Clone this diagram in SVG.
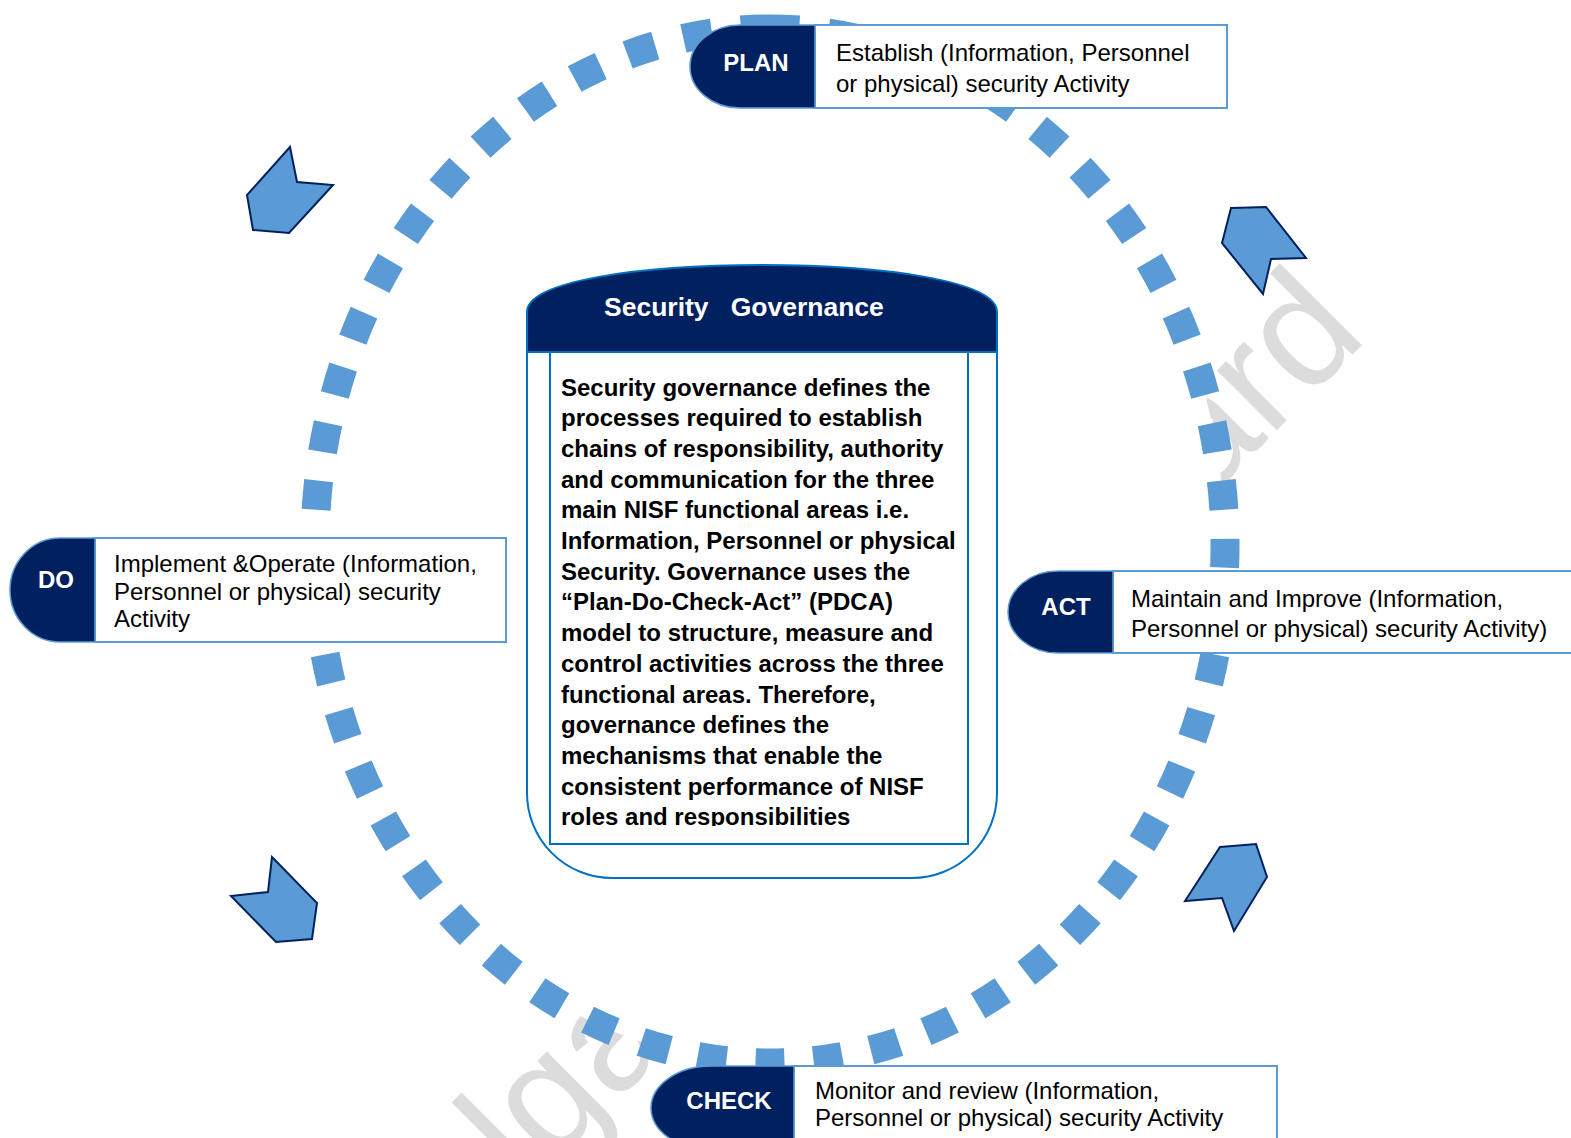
<svg xmlns="http://www.w3.org/2000/svg" width="1571" height="1138" viewBox="0 0 1571 1138">
  <style>
    .wm { font-family: "Liberation Sans", Arial, sans-serif; font-size: 160px; fill: #DCDCDC; }
    .head { fill: #002060; stroke: #5B9BD5; stroke-width: 1.5; }
    .lbox { fill: #FFFFFF; stroke: #5B9BD5; stroke-width: 2; }
    .hlabel { font-family: "Liberation Sans", Arial, sans-serif; font-size: 24px; font-weight: bold; fill: #FFFFFF; text-anchor: middle; }
    .desc { font-family: "Liberation Sans", Arial, sans-serif; font-size: 24px; fill: #000000; }
    .body { font-family: "Liberation Sans", Arial, sans-serif; font-size: 24px; font-weight: bold; fill: #000000; }
    .title { font-family: "Liberation Sans", Arial, sans-serif; font-size: 26.5px; font-weight: bold; fill: #FFFFFF; }
    .arrow { fill: #5B9BD5; stroke: #002060; stroke-width: 2; stroke-linejoin: miter; }
    .ring { fill: none; stroke: #5B9BD5; stroke-width: 29; stroke-dasharray: 29 29; }
  </style>
  <defs>
    <clipPath id="bodyclip">
      <rect x="550" y="352" width="418" height="474"/>
    </clipPath>
  </defs>

  <!-- watermark fragments -->
  <g id="watermark">
    <text class="wm" transform="translate(526,1192) rotate(-45)">lga</text>
    <text class="wm" transform="translate(1206,501) rotate(-45)">ard</text>
  </g>

  <!-- white disc inside the cycle -->
  <ellipse cx="770" cy="546" rx="455" ry="517" fill="#FFFFFF"/>

  <g id="connectors">
    <path class="ring" pathLength="3045" d="M770,29 A455,517 0 0 1 770,1063 A455,517 0 0 1 770,29"/>
    <polygon class="arrow" points="290,147 297,182 333,185 289,233 253,230 247,195"/>
    <polygon class="arrow" points="1231,208 1266,207 1306,258 1271,259 1263,294 1222,243"/>
    <polygon class="arrow" points="1220,847 1256,844 1267,877 1234,931 1222,898 1185,901"/>
    <polygon class="arrow" points="272,857 317,903 312,939 276,942 231,896 268,892"/>
  </g>

  <g id="security-governance">
    <path d="M527,352 L527,793 A85,85 0 0 0 612,878 L912,878 A85,85 0 0 0 997,793 L997,352" fill="#FFFFFF" stroke="#0070C0" stroke-width="2"/>
    <path d="M527,352 L527,312 C527,281 640,265 762,265 C884,265 997,281 997,312 L997,352 Z" fill="#002060" stroke="#0070C0" stroke-width="2"/>
    <text class="title" x="604" y="316" xml:space="preserve">Security   Governance</text>
    <rect x="550" y="352" width="418" height="492" fill="#FFFFFF" stroke="#0070C0" stroke-width="2"/>
    <g clip-path="url(#bodyclip)">
      <text class="body" x="561" y="395.5">Security governance defines the</text>
      <text class="body" x="561" y="426.2">processes required to establish</text>
      <text class="body" x="561" y="456.9">chains of responsibility, authority</text>
      <text class="body" x="561" y="487.6">and communication for the three</text>
      <text class="body" x="561" y="518.3">main NISF functional areas i.e.</text>
      <text class="body" x="561" y="549">Information, Personnel or physical</text>
      <text class="body" x="561" y="579.7">Security. Governance uses the</text>
      <text class="body" x="561" y="610.4">“Plan-Do-Check-Act” (PDCA)</text>
      <text class="body" x="561" y="641.1">model to structure, measure and</text>
      <text class="body" x="561" y="671.8">control activities across the three</text>
      <text class="body" x="561" y="702.5">functional areas. Therefore,</text>
      <text class="body" x="561" y="733.2">governance defines the</text>
      <text class="body" x="561" y="763.9">mechanisms that enable the</text>
      <text class="body" x="561" y="794.6">consistent performance of NISF</text>
      <text class="body" x="561" y="825.3">roles and responsibilities</text>
    </g>
  </g>

  <g id="plan">
    <rect class="lbox" x="815" y="25" width="412" height="83"/>
    <path class="head" d="M815,25 L740,25 A50,41.5 0 0 0 740,108 L815,108 Z"/>
    <text class="hlabel" x="756" y="70.5">PLAN</text>
    <text class="desc" x="836" y="61">Establish (Information, Personnel</text>
    <text class="desc" x="836" y="92">or physical) security Activity</text>
  </g>

  <g id="do">
    <rect class="lbox" x="95" y="538" width="411" height="104"/>
    <path class="head" d="M95,538 L60,538 A50,52 0 0 0 60,642 L95,642 Z"/>
    <text class="hlabel" x="56" y="587.5">DO</text>
    <text class="desc" x="114" y="572">Implement &amp;Operate (Information,</text>
    <text class="desc" x="114" y="600">Personnel or physical) security</text>
    <text class="desc" x="114" y="627">Activity</text>
  </g>

  <g id="act">
    <rect class="lbox" x="1113" y="571" width="470" height="82"/>
    <path class="head" d="M1113,571 L1058,571 A50,41 0 0 0 1058,653 L1113,653 Z"/>
    <text class="hlabel" x="1066" y="614.5">ACT</text>
    <text class="desc" x="1131" y="607">Maintain and Improve (Information,</text>
    <text class="desc" x="1131" y="637">Personnel or physical) security Activity)</text>
  </g>

  <g id="check">
    <rect class="lbox" x="794" y="1066" width="483" height="90"/>
    <path class="head" d="M794,1066 L711,1066 A60,42 0 0 0 711,1150 L794,1150 Z"/>
    <text class="hlabel" x="729" y="1108.5">CHECK</text>
    <text class="desc" x="815" y="1099">Monitor and review (Information,</text>
    <text class="desc" x="815" y="1126">Personnel or physical) security Activity</text>
  </g>
</svg>
